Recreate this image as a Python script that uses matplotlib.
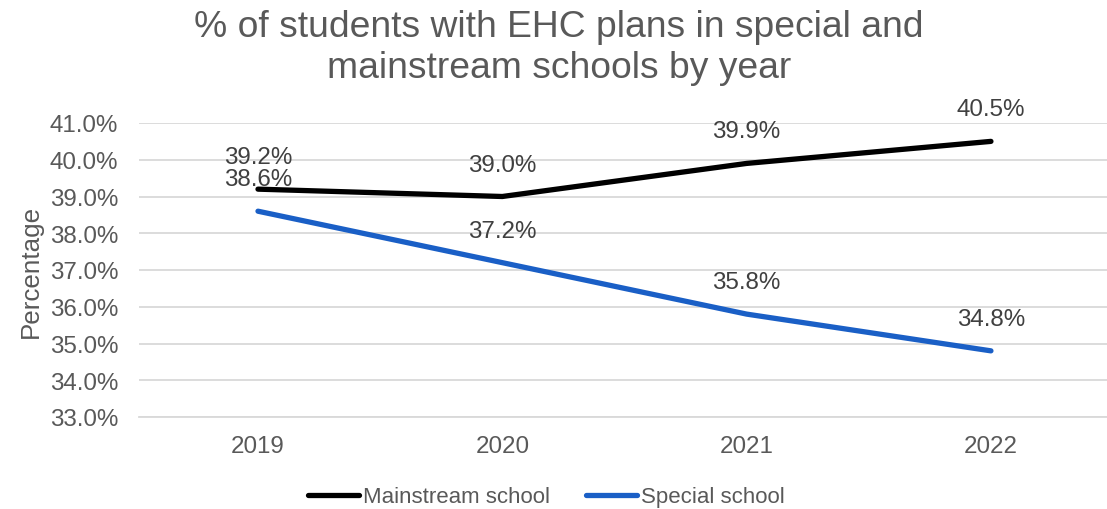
import matplotlib
matplotlib.use("Agg")
import matplotlib.pyplot as plt

years = ["2019", "2020", "2021", "2022"]
mainstream = [39.2, 39.0, 39.9, 40.5]
special = [38.6, 37.2, 35.8, 34.8]
yticks = [33, 34, 35, 36, 37, 38, 39, 40, 41]

plt.rcParams['font.family'] = ['Liberation Sans', 'DejaVu Sans']

fig = plt.figure(figsize=(11.07, 5.10), dpi=100)
ax = fig.add_axes([139/1107, 1-418/510, 1-139/1107, (418-124)/510])

x = list(range(len(years)))
ax.plot(x, mainstream, color='#000000', lw=3.8, solid_capstyle='round', label='Mainstream school', zorder=3)
ax.plot(x, special, color='#1a5fc6', lw=3.8, solid_capstyle='round', label='Special school', zorder=3)

for xi, v in zip(x, mainstream):
    ax.annotate(f"{v:.1f}%", (xi, v), xytext=(0, 23), textcoords='offset points',
                ha='center', va='center', fontsize=17.4, color='#404040')
for xi, v in zip(x, special):
    ax.annotate(f"{v:.1f}%", (xi, v), xytext=(0, 23), textcoords='offset points',
                ha='center', va='center', fontsize=17.4, color='#404040')

ax.set_xlim(-0.487, 3.475)
ax.set_ylim(33, 41)
ax.set_yticks(yticks)
ax.set_yticklabels([f"{t:.1f}%" for t in yticks])
ax.set_xticks(x)
ax.set_xticklabels(years)
ax.tick_params(axis='both', length=0, labelsize=17.4, labelcolor='#595959')
ax.tick_params(axis='y', pad=15)
ax.tick_params(axis='x', pad=13)
ax.grid(axis='y', color='#d9d9d9', lw=1.3)
ax.set_axisbelow(True)
for s in ['top', 'right', 'left']:
    ax.spines[s].set_visible(False)
ax.spines['bottom'].set_color('#d9d9d9')
ax.spines['bottom'].set_linewidth(1.3)

ax.set_ylabel("Percentage", fontsize=18.7, color='#595959', labelpad=5)

fig.text(0.505, 1-48/510, "% of students with EHC plans in special and\nmainstream schools by year",
         ha='center', va='center', fontsize=26.8, color='#595959', linespacing=1.25)

leg = fig.legend(loc='center', bbox_to_anchor=(0.4935, 1-498/510), ncol=2, frameon=False,
                 fontsize=16, handlelength=2.3, handletextpad=0.2, columnspacing=1.6)
for t in leg.get_texts():
    t.set_color('#595959')

fig.savefig("out.png", dpi=100)
